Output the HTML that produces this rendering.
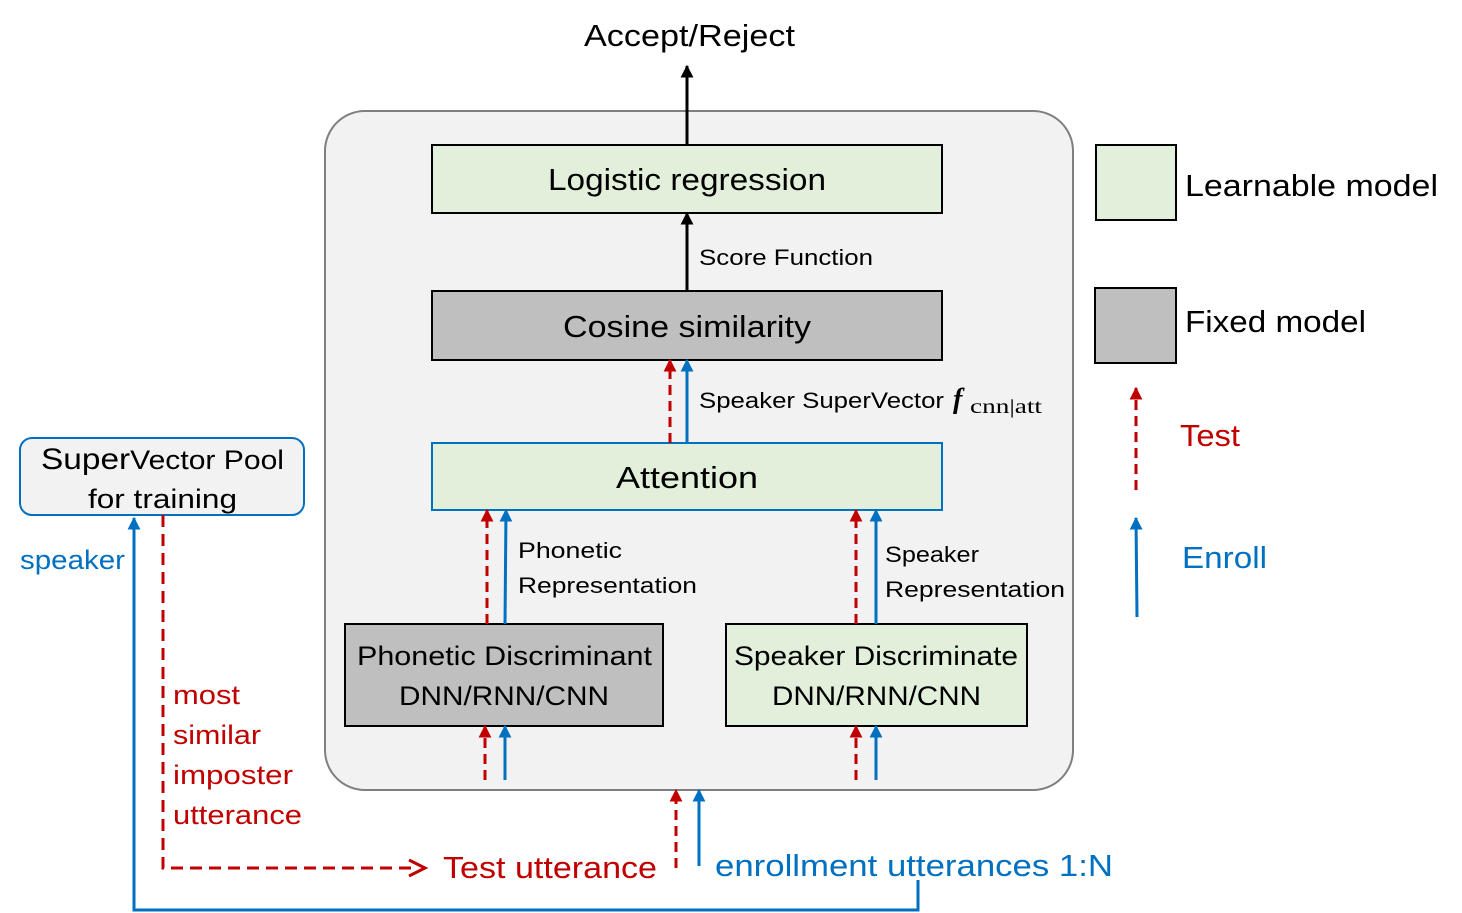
<!DOCTYPE html>
<html><head><meta charset="utf-8"><style>
html,body{margin:0;padding:0;background:#fff;}
svg{display:block;}
text{font-family:"Liberation Sans",sans-serif;}
</style></head><body>
<svg width="1462" height="913" viewBox="0 0 1462 913" xmlns="http://www.w3.org/2000/svg">
<defs>
<marker id="ak" viewBox="0 0 10 10" refX="9" refY="5" markerWidth="13" markerHeight="13" markerUnits="userSpaceOnUse" orient="auto"><path d="M0,0 L10,5 L0,10 z" fill="#000"/></marker>
<marker id="ar" viewBox="0 0 10 10" refX="9" refY="5" markerWidth="13" markerHeight="13" markerUnits="userSpaceOnUse" orient="auto"><path d="M0,0 L10,5 L0,10 z" fill="#c00000"/></marker>
<marker id="ab" viewBox="0 0 10 10" refX="9" refY="5" markerWidth="13" markerHeight="13" markerUnits="userSpaceOnUse" orient="auto"><path d="M0,0 L10,5 L0,10 z" fill="#0070c0"/></marker>
</defs>
<rect x="325" y="111" width="748" height="679" rx="40" fill="#f2f2f2" stroke="#7f7f7f" stroke-width="2"/>
<rect x="432" y="145" width="510" height="68" fill="#e2efda" stroke="#000" stroke-width="2"/>
<rect x="432" y="291" width="510" height="69" fill="#bfbfbf" stroke="#000" stroke-width="2"/>
<rect x="432" y="443" width="510" height="67" fill="#e2efda" stroke="#0070c0" stroke-width="2"/>
<rect x="345" y="624" width="318" height="102" fill="#bfbfbf" stroke="#000" stroke-width="2"/>
<rect x="726" y="624" width="301" height="102" fill="#e2efda" stroke="#000" stroke-width="2"/>
<rect x="20" y="438" width="284" height="77" rx="12" fill="#f2f2f2" stroke="#0070c0" stroke-width="2"/>
<rect x="1096" y="145" width="80" height="75" fill="#e2efda" stroke="#000" stroke-width="2"/>
<rect x="1095" y="288" width="81" height="75" fill="#bfbfbf" stroke="#000" stroke-width="2"/>

<g stroke-width="3" fill="none">
<line x1="687" y1="145" x2="687" y2="66" stroke="#000" marker-end="url(#ak)"/>
<line x1="687" y1="291" x2="687" y2="213" stroke="#000" marker-end="url(#ak)"/>
<line x1="670" y1="443" x2="670" y2="360" stroke="#c00000" stroke-dasharray="10,6" marker-end="url(#ar)"/>
<line x1="687" y1="443" x2="687" y2="360" stroke="#0070c0" marker-end="url(#ab)"/>
<line x1="487" y1="624" x2="487" y2="510" stroke="#c00000" stroke-dasharray="10,6" marker-end="url(#ar)"/>
<line x1="505" y1="624" x2="506" y2="510" stroke="#0070c0" marker-end="url(#ab)"/>
<line x1="856" y1="624" x2="856" y2="510" stroke="#c00000" stroke-dasharray="10,6" marker-end="url(#ar)"/>
<line x1="876" y1="624" x2="876" y2="510" stroke="#0070c0" marker-end="url(#ab)"/>
<line x1="485" y1="780" x2="485" y2="726" stroke="#c00000" stroke-dasharray="10,6" marker-end="url(#ar)"/>
<line x1="505" y1="780" x2="505" y2="726" stroke="#0070c0" marker-end="url(#ab)"/>
<line x1="856" y1="780" x2="856" y2="726" stroke="#c00000" stroke-dasharray="10,6" marker-end="url(#ar)"/>
<line x1="876" y1="780" x2="876" y2="726" stroke="#0070c0" marker-end="url(#ab)"/>
<line x1="676" y1="868" x2="676" y2="790" stroke="#c00000" stroke-dasharray="10,6" marker-end="url(#ar)"/>
<line x1="699" y1="866" x2="699" y2="790" stroke="#0070c0" marker-end="url(#ab)"/>
<polyline points="163,515 163,868 415,868" stroke="#c00000" stroke-dasharray="12,7"/>
<polyline points="409,860 425,868 409,876" stroke="#c00000"/>
<polyline points="918,880 918,910 134,910 134,518" stroke="#0070c0" marker-end="url(#ab)"/>
<line x1="1136" y1="490" x2="1136" y2="388" stroke="#c00000" stroke-dasharray="10,6" marker-end="url(#ar)"/>
<line x1="1137" y1="617" x2="1136" y2="518" stroke="#0070c0" marker-end="url(#ab)"/>
</g>

<g font-size="31" fill="#000">
<text x="584" y="46" textLength="211" lengthAdjust="spacingAndGlyphs">Accept/Reject</text>
<text x="548" y="190" textLength="278" lengthAdjust="spacingAndGlyphs">Logistic regression</text>
<text x="563" y="337" textLength="248" lengthAdjust="spacingAndGlyphs">Cosine similarity</text>
<text x="616" y="488" textLength="142" lengthAdjust="spacingAndGlyphs">Attention</text>
<text x="1185" y="196" textLength="253" lengthAdjust="spacingAndGlyphs">Learnable model</text>
<text x="1185" y="332" textLength="181" lengthAdjust="spacingAndGlyphs">Fixed model</text>
</g>
<g font-size="22" fill="#000">
<text x="699" y="265" textLength="174" lengthAdjust="spacingAndGlyphs">Score Function</text>
<text x="699" y="408" textLength="245" lengthAdjust="spacingAndGlyphs">Speaker SuperVector</text>
<text x="518" y="558" textLength="104" lengthAdjust="spacingAndGlyphs">Phonetic</text>
<text x="518" y="593" textLength="179" lengthAdjust="spacingAndGlyphs">Representation</text>
<text x="885" y="562" textLength="94" lengthAdjust="spacingAndGlyphs">Speaker</text>
<text x="885" y="597" textLength="180" lengthAdjust="spacingAndGlyphs">Representation</text>
</g>
<text x="953" y="408" style="font-family:'Liberation Serif',serif" font-style="italic" font-weight="bold" font-size="28">f</text>
<text x="970" y="413" style="font-family:'Liberation Serif',serif" font-size="20" textLength="72" lengthAdjust="spacingAndGlyphs">cnn|att</text>
<g font-size="27" fill="#000">
<text x="357" y="665" textLength="295" lengthAdjust="spacingAndGlyphs">Phonetic Discriminant</text>
<text x="399" y="705" textLength="210" lengthAdjust="spacingAndGlyphs">DNN/RNN/CNN</text>
<text x="734" y="665" textLength="284" lengthAdjust="spacingAndGlyphs">Speaker Discriminate</text>
<text x="772" y="705" textLength="209" lengthAdjust="spacingAndGlyphs">DNN/RNN/CNN</text>
<text x="41" y="469" textLength="243" lengthAdjust="spacingAndGlyphs"><tspan font-size="30">Super</tspan>Vector Pool</text>
<text x="88" y="508" textLength="149" lengthAdjust="spacingAndGlyphs">for training</text>
</g>
<g font-size="27" fill="#0070c0">
<text x="20" y="569" textLength="105" lengthAdjust="spacingAndGlyphs">speaker</text>
</g>
<g font-size="27" fill="#c00000">
<text x="173" y="704" textLength="67" lengthAdjust="spacingAndGlyphs">most</text>
<text x="173" y="744" textLength="88" lengthAdjust="spacingAndGlyphs">similar</text>
<text x="173" y="784" textLength="120" lengthAdjust="spacingAndGlyphs">imposter</text>
<text x="173" y="824" textLength="129" lengthAdjust="spacingAndGlyphs">utterance</text>
</g>
<text x="443" y="878" font-size="31" fill="#c00000" textLength="214" lengthAdjust="spacingAndGlyphs">Test utterance</text>
<text x="715" y="876" font-size="31" fill="#0070c0" textLength="398" lengthAdjust="spacingAndGlyphs">enrollment utterances 1:N</text>
<text x="1180" y="446" font-size="31" fill="#c00000" textLength="60" lengthAdjust="spacingAndGlyphs">Test</text>
<text x="1182" y="568" font-size="31" fill="#0070c0" textLength="85" lengthAdjust="spacingAndGlyphs">Enroll</text>
</svg>
</body></html>
